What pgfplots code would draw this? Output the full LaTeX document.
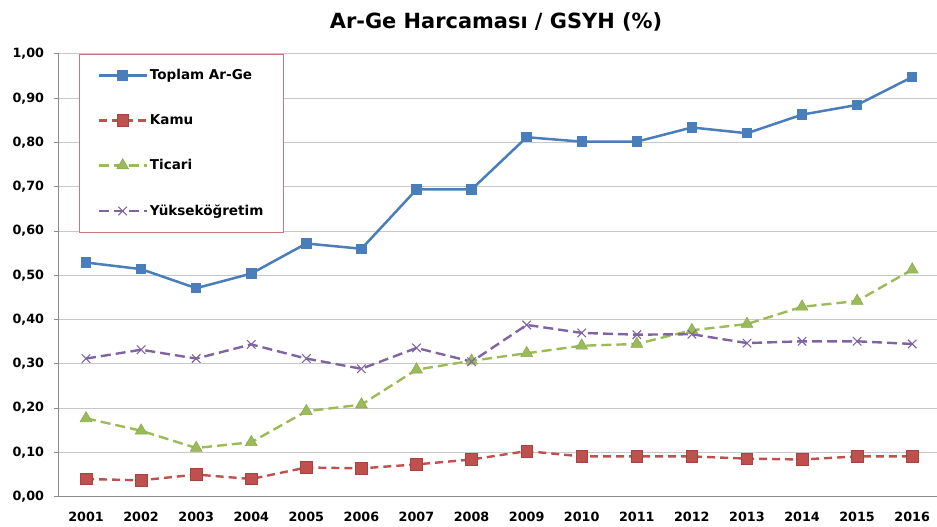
\documentclass[border=0pt]{standalone}
\usepackage{fontspec}
\setmainfont{DejaVu Sans}
\usepackage{pgfplots}
\pgfplotsset{compat=1.18}

\definecolor{c-toplam}{HTML}{4A7EBB}
\definecolor{c-kamu}{HTML}{C0504D}
\definecolor{c-ticari}{HTML}{9BBB59}
\definecolor{c-yuksek}{HTML}{8064A2}
\definecolor{c-grid}{HTML}{C8C8C8}
\definecolor{c-axis}{HTML}{8C8C8C}
\definecolor{c-legend}{HTML}{C87878}

\begin{document}
\begin{tikzpicture}
  \useasboundingbox (0,0) rectangle (937bp,527bp);
  \node[anchor=base, font=\bfseries\fontsize{21}{24}\selectfont] at (496bp,498bp) {Ar-Ge Harcaması / GSYH (\%)};
  \begin{axis}[
      at={(58.5bp,30.3bp)}, anchor=south west,
      scale only axis, width=878.5bp, height=442.7bp,
      xmin=2000.5, xmax=2016.45,
      ymin=0, ymax=1,
      xtick={2001,...,2016},
      xticklabel style={/pgf/number format/1000 sep={}, yshift=-7bp},
      xtick style={draw=none},
      minor xtick={2000.5,2001.5,...,2016.5},
      minor tick length=4bp,
      minor tick style={draw=c-axis, line width=1bp},
      ytick={0,0.1,...,1.0},
      major tick length=5bp,
      ytick style={draw=c-axis, line width=1bp},
      tick align=outside,
      yticklabel style={xshift=-6bp, /pgf/number format/.cd, fixed, fixed zerofill, precision=2, use comma},
      /pgf/number format/assume math mode=true,
      tick label style={font=\bfseries\fontsize{12.8}{14}\selectfont},
      ymajorgrids, grid style={draw=c-grid, line width=1bp},
      axis lines*=left,
      axis line style={draw=c-axis, line width=1bp, -},
      legend style={at={(0.0233,1)}, anchor=north west, draw=c-legend, line width=0.9bp,
        inner xsep=18bp, inner ysep=13bp, row sep=29.5bp,
        font=\bfseries\fontsize{13.6}{15}\selectfont,
        nodes={inner sep=2bp}},
      legend cell align=left,
      legend image code/.code={\draw[mark repeat=2,mark phase=2,#1] plot coordinates {(0bp,0bp) (24bp,0bp) (48bp,0bp)};},
    ]
    \addplot[color=c-toplam, line width=2.5bp, mark=square*, mark size=4bp,
      mark options={solid, fill=c-toplam}]
      coordinates {
        (2001,0.529) (2002,0.514) (2003,0.471) (2004,0.504) (2005,0.572) (2006,0.560)
        (2007,0.694) (2008,0.694) (2009,0.812) (2010,0.802) (2011,0.802) (2012,0.834)
        (2013,0.821) (2014,0.863) (2015,0.885) (2016,0.948)
      };
    \addlegendentry{Toplam Ar-Ge}
    \addplot[color=c-kamu, line width=2.4bp, dash pattern=on 8bp off 5bp, mark=square*, mark size=5.8bp,
      mark options={solid, fill=c-kamu, draw=c-kamu!85!black, line width=0.6bp}]
      coordinates {
        (2001,0.040) (2002,0.037) (2003,0.050) (2004,0.040) (2005,0.066) (2006,0.064)
        (2007,0.073) (2008,0.084) (2009,0.103) (2010,0.091) (2011,0.091) (2012,0.091)
        (2013,0.086) (2014,0.084) (2015,0.091) (2016,0.091)
      };
    \addlegendentry{Kamu}
    \addplot[color=c-ticari, line width=2.4bp, dash pattern=on 10bp off 5bp, mark=triangle*, mark size=6.8bp,
      mark options={solid, fill=c-ticari, draw=c-ticari!90!black, line width=0.6bp}]
      coordinates {
        (2001,0.177) (2002,0.149) (2003,0.110) (2004,0.123) (2005,0.193) (2006,0.208)
        (2007,0.287) (2008,0.307) (2009,0.324) (2010,0.341) (2011,0.345) (2012,0.376)
        (2013,0.390) (2014,0.429) (2015,0.442) (2016,0.513)
      };
    \addlegendentry{Ticari}
    \addplot[color=c-yuksek, line width=2.4bp, dash pattern=on 10bp off 5bp, mark=x, mark size=6bp,
      mark options={solid, line width=1.1bp}]
      coordinates {
        (2001,0.312) (2002,0.332) (2003,0.312) (2004,0.344) (2005,0.312) (2006,0.289)
        (2007,0.336) (2008,0.305) (2009,0.388) (2010,0.370) (2011,0.366) (2012,0.367)
        (2013,0.347) (2014,0.351) (2015,0.351) (2016,0.345)
      };
    \addlegendentry{Yükseköğretim}
  \end{axis}
\end{tikzpicture}
\end{document}
